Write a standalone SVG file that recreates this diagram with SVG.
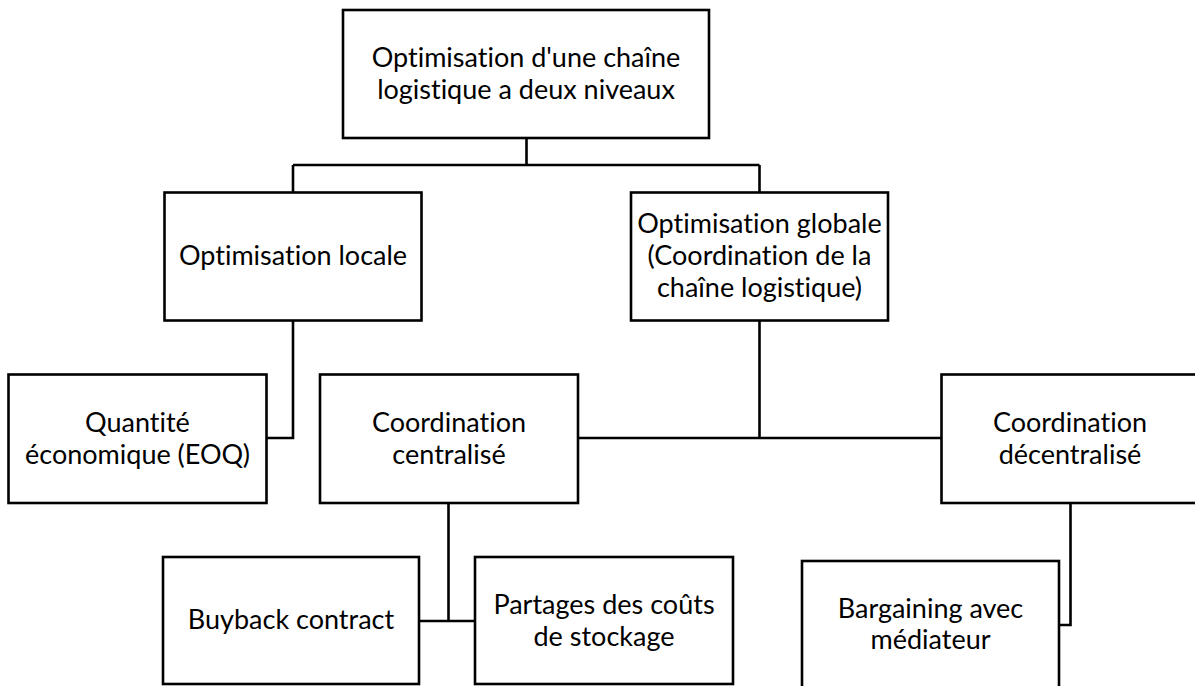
<svg xmlns="http://www.w3.org/2000/svg" width="1195" height="686" viewBox="0 0 1195 686">
  <style>
    .box { fill: #ffffff; stroke: #000000; stroke-width: 2.6; }
    .lbl { font-family: Lato, "Open Sans", "Liberation Sans", sans-serif; font-size: 27px; fill: #000000; text-anchor: middle; font-variant-ligatures: none; font-feature-settings: "liga" 0, "clig" 0; }
    .wire { fill: none; stroke: #000000; stroke-width: 2.6; }
  </style>
  <rect width="1195" height="686" fill="#ffffff"/>

  <!-- connectors of the tree -->
  <g id="connectors">
    <path class="wire" d="M526.5,138 V165 M293,165 H759.5 M293,165 V192 M759.5,165 V192"/>
    <path class="wire" d="M293,320 V438 H267"/>
    <path class="wire" d="M759.5,320 V438 M578,438 H941.5"/>
    <path class="wire" d="M448.5,503 V621 M419,621 H475"/>
    <path class="wire" d="M1070.5,503 V625 H1059"/>
  </g>

  <g id="root">
    <rect class="box" x="343" y="10" width="366" height="128"/>
    <text class="lbl" x="526" y="67">Optimisation d'une chaîne</text>
    <text class="lbl" x="526" y="99">logistique a deux niveaux</text>
  </g>

  <g id="locale">
    <rect class="box" x="164.5" y="192.5" width="257" height="128"/>
    <text class="lbl" x="293" y="265">Optimisation locale</text>
  </g>

  <g id="globale">
    <rect class="box" x="631" y="192.5" width="257" height="128"/>
    <text class="lbl" x="759.5" y="233">Optimisation globale</text>
    <text class="lbl" x="759.5" y="265">(Coordination de la</text>
    <text class="lbl" x="759.5" y="297">chaîne logistique)</text>
  </g>

  <g id="eoq">
    <rect class="box" x="8.5" y="374.5" width="258" height="128.5"/>
    <text class="lbl" x="137.5" y="432">Quantité</text>
    <text class="lbl" x="137.5" y="464">économique (EOQ)</text>
  </g>

  <g id="centralise">
    <rect class="box" x="320" y="374.5" width="258" height="128.5"/>
    <text class="lbl" x="449" y="432">Coordination</text>
    <text class="lbl" x="449" y="464">centralisé</text>
  </g>

  <g id="decentralise">
    <rect class="box" x="941.5" y="374.5" width="258" height="128.5"/>
    <text class="lbl" x="1070" y="432">Coordination</text>
    <text class="lbl" x="1070" y="464">décentralisé</text>
  </g>

  <g id="buyback">
    <rect class="box" x="163" y="557" width="256" height="127"/>
    <text class="lbl" x="291" y="629">Buyback contract</text>
  </g>

  <g id="partages">
    <rect class="box" x="475" y="557" width="258" height="127"/>
    <text class="lbl" x="604" y="614">Partages des coûts</text>
    <text class="lbl" x="604" y="646">de stockage</text>
  </g>

  <g id="bargaining">
    <rect class="box" x="802" y="561" width="257" height="130"/>
    <text class="lbl" x="930.5" y="618">Bargaining avec</text>
    <text class="lbl" x="930.5" y="649">médiateur</text>
  </g>
</svg>
